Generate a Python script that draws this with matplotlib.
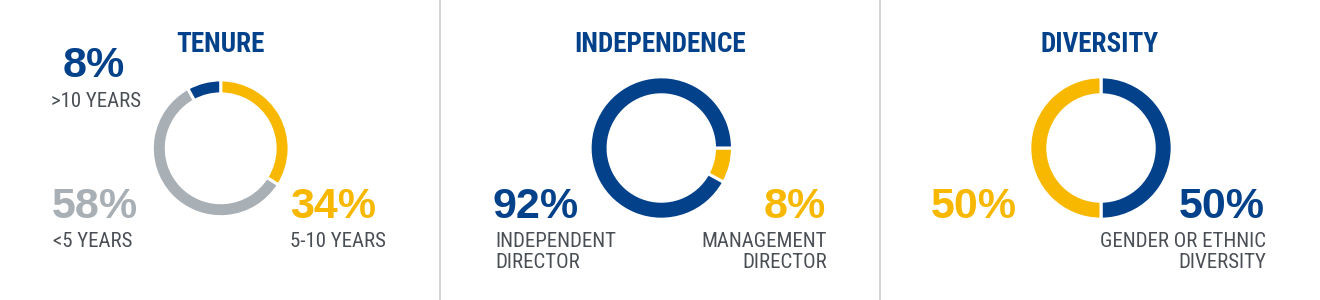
import matplotlib
matplotlib.use("Agg")
import matplotlib.pyplot as plt
from matplotlib import font_manager

# ---- data ----
titles = ["TENURE", "INDEPENDENCE", "DIVERSITY"]
tenure_labels = ["5-10 YEARS", "<5 YEARS", ">10 YEARS"]
tenure_values = [34, 58, 8]
independence_labels = ["MANAGEMENT\nDIRECTOR", "INDEPENDENT\nDIRECTOR"]
independence_values = [8, 92]
diversity_labels = ["GENDER OR ETHNIC\nDIVERSITY", ""]
diversity_values = [50, 50]

NAVY = "#03428a"
YELLOW = "#f8b800"
GRAY = "#a8afb5"
TEXT = "#4a4e55"
DIV = "#c9cbcd"

names = {f.name for f in font_manager.fontManager.ttflist}


def pick(cands):
    for c in cands:
        if c in names:
            return c
    return "DejaVu Sans"


COND = pick(["Roboto Condensed", "Barlow Condensed", "Liberation Sans Narrow", "DejaVu Sans"])
BOLD = pick(["Liberation Sans", "DejaVu Sans"])

fig = plt.figure(figsize=(13.2, 3.0), dpi=100)
ax = fig.add_axes([0, 0, 1, 1])

H = 300


def donut(values, colors, cx, cy, r, w, start):
    ax.pie(values, colors=colors, center=(cx, H - cy), radius=r,
           startangle=start, counterclock=False,
           wedgeprops=dict(width=w, edgecolor="white", linewidth=2.2))


def pct(x, y, s, color, ha):
    ax.text(x, H - y, s, fontsize=31, fontweight="bold", family=BOLD,
            color=color, ha=ha, va="center")


def lab(x, y, s, ha):
    ax.text(x, H - y, s, fontsize=15, family=COND, color=TEXT, ha=ha,
            va="top", linespacing=1.1)


# Tenure
donut(tenure_values, [YELLOW, GRAY, NAVY], 220.7, 148.3, 68.4, 14, 90)
# Independence
donut(independence_values, [YELLOW, NAVY], 661.3, 148, 71.2, 18, 0)
# Diversity
donut(diversity_values, [NAVY, YELLOW], 1101, 148, 71.2, 18, 90)

# titles
for cx, t in zip([220, 660, 1100], titles):
    ax.text(cx, H - 44, t, fontsize=19.5, fontweight="bold", family=COND,
            color=NAVY, ha="center", va="center")

# Tenure labels
pct(94, 66, f"{tenure_values[2]}%", NAVY, "center")
lab(96, 92, tenure_labels[2], "center")
pct(52, 207, f"{tenure_values[1]}%", GRAY, "left")
lab(53, 232, tenure_labels[1], "left")
pct(290, 207, f"{tenure_values[0]}%", YELLOW, "left")
lab(290, 232, tenure_labels[0], "left")

# Independence labels
pct(493, 207, f"{independence_values[1]}%", NAVY, "left")
lab(495, 232, independence_labels[1], "left")
pct(826, 207, f"{independence_values[0]}%", YELLOW, "right")
lab(827, 232, independence_labels[0], "right")

# Diversity labels
pct(931, 207, f"{diversity_values[1]}%", YELLOW, "left")
pct(1265, 207, f"{diversity_values[0]}%", NAVY, "right")
lab(1266, 232, diversity_labels[0], "right")

# dividers
ax.plot([440, 440], [0, H], color=DIV, lw=1.2)
ax.plot([880, 880], [0, H], color=DIV, lw=1.2)

ax.set_xlim(0, 1320)
ax.set_ylim(0, H)
ax.set_aspect("equal")
ax.axis("off")

fig.savefig("out.png", dpi=100, facecolor="white")
